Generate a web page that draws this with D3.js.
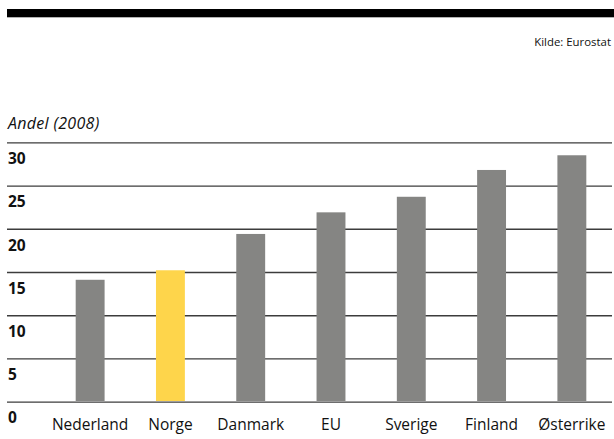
<!DOCTYPE html>
<html>
<head>
<meta charset="utf-8">
<script src="https://cdn.jsdelivr.net/npm/d3@7/dist/d3.min.js"></script>
<style>
  html, body { margin: 0; padding: 0; background: #fff; }
  svg { display: block; }
  text { font-family: "Open Sans", "Noto Sans", sans-serif; fill: #111; }
</style>
</head>
<body>
<svg id="chart" width="614" height="439"></svg>
<script>
// Andel (2008), per land
const countries = ["Nederland", "Norge", "Danmark", "EU", "Sverige", "Finland", "Østerrike"];
const shares = [14.1, 15.2, 19.4, 21.9, 23.7, 26.8, 28.5];
const highlight = "Norge";
const yTicks = [0, 5, 10, 15, 20, 25, 30];

const svg = d3.select("#chart");
const W = 614;

const x = d3.scaleBand()
  .domain(countries)
  .range([50, 612])
  .paddingInner(0.64)
  .paddingOuter(0.32);

const y = d3.scaleLinear()
  .domain([0, 30])
  .range([401.7, 142.3]);

// heavy rule across the top
svg.append("rect")
  .attr("x", 7).attr("y", 9)
  .attr("width", W - 7).attr("height", 8.3)
  .attr("fill", "#000");

svg.append("text")
  .attr("x", 611).attr("y", 45.5)
  .attr("text-anchor", "end")
  .style("font-size", "11.4px")
  .text("Kilde: Eurostat");

svg.append("text")
  .attr("x", 8).attr("y", 128.5)
  .style("font-size", "16px")
  .style("font-style", "italic")
  .style("letter-spacing", "0.3px")
  .text("Andel (2008)");

// gridlines with labels sitting under each line
const yAxis = d3.axisRight(y)
  .tickValues(yTicks)
  .tickSize(612 - 7)
  .tickFormat(d3.format("d"));

const gAxis = svg.append("g")
  .attr("transform", "translate(7,0)")
  .call(yAxis);
gAxis.select(".domain").remove();
gAxis.selectAll(".tick line")
  .attr("stroke", "#3c3c3c")
  .attr("stroke-width", 1.3);
gAxis.selectAll(".tick text")
  .attr("x", 1)
  .attr("dy", 0)
  .attr("y", 21.3)
  .attr("text-anchor", "start")
  .style("font-family", "'Open Sans', 'Noto Sans', sans-serif")
  .style("font-size", "15.5px")
  .style("font-weight", "bold")
  .style("fill", "#111");

// bars
svg.append("g")
  .selectAll("rect")
  .data(countries)
  .join("rect")
  .attr("x", d => x(d))
  .attr("width", x.bandwidth())
  .attr("y", (d, i) => y(shares[i]))
  .attr("height", (d, i) => y(0) - y(shares[i]) - 0.7)
  .attr("fill", d => d === highlight ? "#FED54B" : "#858583");

// category labels
const xAxis = d3.axisBottom(x).tickSize(0).tickPadding(0);
const gx = svg.append("g")
  .attr("transform", "translate(0,430)")
  .call(xAxis);
gx.select(".domain").remove();
gx.selectAll(".tick text")
  .attr("dy", 0)
  .attr("y", 0)
  .style("font-family", "'Open Sans', 'Noto Sans', sans-serif")
  .style("font-size", "15.5px")
  .style("fill", "#111");
</script>
</body>
</html>
